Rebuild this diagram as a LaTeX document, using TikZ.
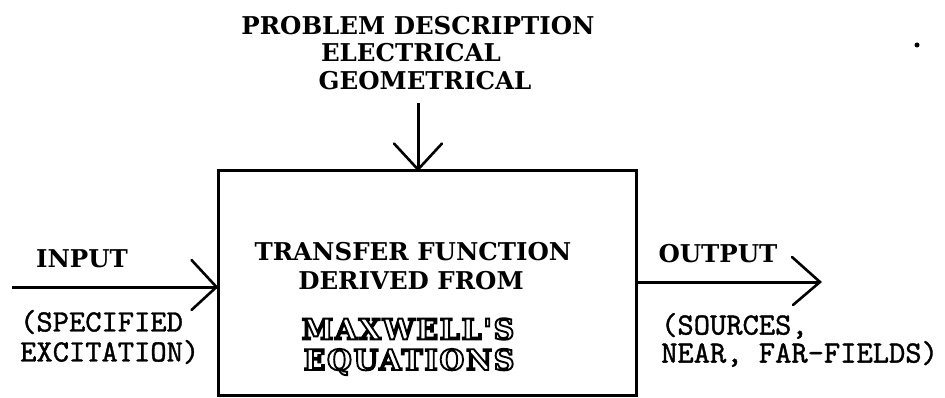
\documentclass[tikz,border=0pt]{standalone}
\usepackage{fontspec}
\usetikzlibrary{calc}
\newfontfamily\hvy{DejaVu Serif}[BoldFont={DejaVu Serif Bold}]
\newfontfamily\outfont{DejaVu Serif}[BoldFont={DejaVu Serif Bold}, LetterSpace=6]
\newfontfamily\mono{lmmono10-regular.otf}[FakeBold=1.2]
\newcommand\outl[1]{\special{pdf:code 1 Tr 1.9 w}#1\special{pdf:code 0 Tr 0 w}}
\begin{document}
\begin{tikzpicture}[x=1pt,y=-1pt,
  heavy/.style={font=\hvy\bfseries\fontsize{24.5}{28}\selectfont, inner sep=0pt, anchor=center},
  outl/.style={font=\outfont\bfseries\fontsize{28.5}{30}\selectfont, inner sep=0pt, anchor=center},
  plain/.style={font=\mono\fontsize{31}{32}\selectfont, inner sep=0pt, anchor=west},
  conn/.style={line width=3pt},
  vhead/.style={line width=2.6pt, line cap=round}]
\useasboundingbox (0,0) rectangle (945,398);
% box
\node[draw, line width=3pt, minimum width=418pt, minimum height=224pt, inner sep=0pt] (box) at (427,283) {};
% top text
\node[heavy] (t1) at (418,26) {PROBLEM DESCRIPTION};
\node[heavy] (t2) at (411,53) {ELECTRICAL};
\node[heavy] (t3) at (425,81) {GEOMETRICAL};
\coordinate (topstart) at (418,103);
\coordinate (topend) at (box.north -| topstart);
\draw[conn] (topstart) -- (topend);
\draw[vhead] ($(topend)+(-24,-26)$) -- (topend) -- ($(topend)+(24,-26)$);
% box text
\node[heavy] (b1) at (413,252) {TRANSFER FUNCTION};
\node[heavy] (b2) at (411,281) {DERIVED FROM};
\node[outl] (b3) at (408,329) {\outl{MAXWELL'S}};
\node[outl] (b4) at (409,362) {\outl{EQUATIONS}};
% input
\coordinate (instart) at (12,287);
\coordinate (inend) at (box.west |- instart);
\draw[conn] (instart) -- (inend);
\draw[vhead] ($(inend)+(-25,-27)$) -- (inend) -- ($(inend)+(-25,23)$);
\node[heavy] (in) at (82,259) {INPUT};
\node[plain] (in1) at (20,322) {(SPECIFIED};
\node[plain] (in2) at (20,352) {EXCITATION)};
% output
\coordinate (outstart) at (box.east |- 0,282);
\coordinate (outend) at (820,282);
\draw[conn] (outstart) -- (outend);
\draw[vhead] ($(outend)+(-28,-25)$) -- (outend) -- ($(outend)+(-27,23)$);
\node[heavy] (out) at (718,254) {OUTPUT};
\node[plain] (o1) at (661,326) {(SOURCES,};
\node[plain] (o2) at (661,354) {NEAR, FAR-FIELDS)};
% speck
\fill (917,45) circle (2.5pt);
\end{tikzpicture}
\end{document}
